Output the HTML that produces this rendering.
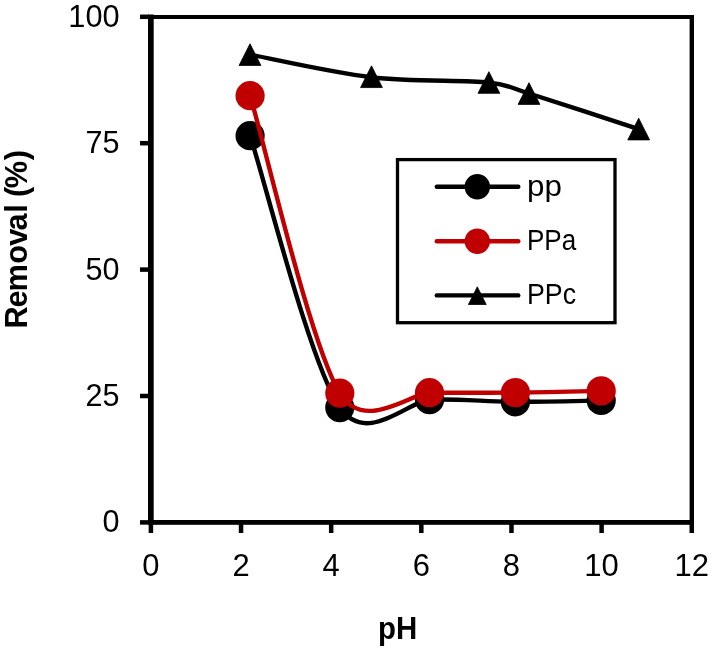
<!DOCTYPE html>
<html lang="en"><head><meta charset="utf-8"><title>Removal vs pH</title>
<style>html,body{margin:0;padding:0;background:#fff;}body{width:711px;height:649px;overflow:hidden;}svg{display:block;}text{font-family:"Liberation Sans",sans-serif;fill:#000;}</style></head><body>
<svg width="711" height="649" viewBox="0 0 711 649" style="will-change:transform">
<rect width="711" height="649" fill="#fff"/>
<g fill="#000">
<rect x="150" y="15" width="544" height="4"/>
<rect x="689.6" y="15" width="4.4" height="509"/>
<rect x="148" y="14.5" width="5.7" height="510.3"/>
<rect x="148" y="520" width="546" height="4.8"/>
<rect x="140" y="520.15" width="9" height="4.5"/>
<rect x="140" y="393.75" width="9" height="4.5"/>
<rect x="140" y="267.35" width="9" height="4.5"/>
<rect x="140" y="140.95" width="9" height="4.5"/>
<rect x="140" y="14.55" width="9" height="4.5"/>
<rect x="148.65" y="522" width="4.5" height="11"/>
<rect x="238.79" y="522" width="4.5" height="11"/>
<rect x="328.93" y="522" width="4.5" height="11"/>
<rect x="419.08" y="522" width="4.5" height="11"/>
<rect x="509.22" y="522" width="4.5" height="11"/>
<rect x="599.36" y="522" width="4.5" height="11"/>
<rect x="689.50" y="522" width="4.5" height="11"/>
</g>
<g font-size="30.6" text-anchor="end">
<text x="119.60" y="532.30" textLength="17.00" lengthAdjust="spacingAndGlyphs">0</text>
<text x="119.60" y="405.90" textLength="34.00" lengthAdjust="spacingAndGlyphs">25</text>
<text x="119.60" y="279.50" textLength="34.00" lengthAdjust="spacingAndGlyphs">50</text>
<text x="119.60" y="153.10" textLength="34.00" lengthAdjust="spacingAndGlyphs">75</text>
<text x="119.60" y="26.70" textLength="51.30" lengthAdjust="spacingAndGlyphs">100</text>
</g>
<g font-size="30.6" text-anchor="middle">
<text x="150.90" y="575.70" textLength="17.20" lengthAdjust="spacingAndGlyphs">0</text>
<text x="241.04" y="575.70" textLength="17.20" lengthAdjust="spacingAndGlyphs">2</text>
<text x="331.18" y="575.70" textLength="17.20" lengthAdjust="spacingAndGlyphs">4</text>
<text x="421.33" y="575.70" textLength="17.20" lengthAdjust="spacingAndGlyphs">6</text>
<text x="511.47" y="575.70" textLength="17.20" lengthAdjust="spacingAndGlyphs">8</text>
<text x="601.61" y="575.70" textLength="34.50" lengthAdjust="spacingAndGlyphs">10</text>
<text x="691.75" y="575.70" textLength="34.50" lengthAdjust="spacingAndGlyphs">12</text>
</g>
<text x="397.60" y="638.80" font-size="30.8" font-weight="bold" text-anchor="middle" textLength="39.20" lengthAdjust="spacingAndGlyphs">pH</text>
<text transform="translate(27.40,324.80) rotate(-90)" font-size="30.8" font-weight="bold" x="-3.80 17.25 33.35 60.95 79.00 94.25 112.15 120.71 127.80 136.60 164.60">Removal (%)</text>
<g fill="none" stroke-width="4.4" stroke-linecap="round" stroke-linejoin="round">
<path d="M250.00,54.60 C270.25,58.37 331.68,72.53 371.50,77.20 C411.32,81.87 462.65,79.88 488.90,82.60 C509.57,84.74 509.16,87.33 529.00,93.50 C553.97,101.27 620.42,123.25 638.70,129.20" stroke="#000"/>
</g>
<polygon points="250.00,43.73 260.92,65.45 239.08,65.45" fill="#000" stroke="#000" stroke-width="0.8" stroke-linejoin="round"/>
<polygon points="371.50,65.83 382.42,87.55 360.58,87.55" fill="#000" stroke="#000" stroke-width="0.8" stroke-linejoin="round"/>
<polygon points="488.90,71.63 499.82,93.35 477.98,93.35" fill="#000" stroke="#000" stroke-width="0.8" stroke-linejoin="round"/>
<polygon points="529.00,82.68 539.92,104.40 518.08,104.40" fill="#000" stroke="#000" stroke-width="0.8" stroke-linejoin="round"/>
<polygon points="638.70,118.18 649.62,139.90 627.78,139.90" fill="#000" stroke="#000" stroke-width="0.8" stroke-linejoin="round"/>
<path d="M250.10,135.70 C265.05,181.02 309.90,363.60 339.80,407.60 C366.37,446.70 409.68,400.35 429.50,399.70 C458.77,398.73 486.78,401.67 515.40,401.80 C544.02,401.93 586.90,400.72 601.20,400.50" fill="none" stroke="#000" stroke-width="4.4" stroke-linecap="round"/>
<circle cx="250.10" cy="135.70" r="14.6" fill="#000"/>
<circle cx="339.80" cy="407.60" r="14.6" fill="#000"/>
<circle cx="429.50" cy="399.70" r="14.6" fill="#000"/>
<circle cx="515.40" cy="401.80" r="14.6" fill="#000"/>
<circle cx="601.20" cy="400.50" r="14.6" fill="#000"/>
<path d="M250.10,95.70 C265.05,145.27 309.90,343.60 339.80,393.10 C364.15,433.41 411.34,392.75 429.50,392.70 C458.77,392.62 486.78,392.90 515.40,392.60 C544.02,392.30 586.90,391.18 601.20,390.90" fill="none" stroke="#C00000" stroke-width="4.4" stroke-linecap="round"/>
<circle cx="250.10" cy="95.70" r="14.6" fill="#C00000"/>
<circle cx="339.80" cy="393.10" r="14.6" fill="#C00000"/>
<circle cx="429.50" cy="392.70" r="14.6" fill="#C00000"/>
<circle cx="515.40" cy="392.60" r="14.6" fill="#C00000"/>
<circle cx="601.20" cy="390.90" r="14.6" fill="#C00000"/>
<rect x="397.5" y="159.6" width="217.5" height="163.1" fill="#fff" stroke="#000" stroke-width="3.3"/>
<line x1="436.8" y1="186.80" x2="518.3" y2="186.80" stroke="#000" stroke-width="4.4" stroke-linecap="round"/>
<line x1="436.8" y1="241.30" x2="518.3" y2="241.30" stroke="#C00000" stroke-width="4.4" stroke-linecap="round"/>
<line x1="436.8" y1="295.40" x2="518.3" y2="295.40" stroke="#000" stroke-width="4.4" stroke-linecap="round"/>
<circle cx="477.3" cy="186.80" r="12.7" fill="#000"/>
<circle cx="477.3" cy="241.30" r="12.7" fill="#C00000"/>
<polygon points="477.30,286.78 486.22,304.50 468.38,304.50" fill="#000" stroke="#000" stroke-width="0.8" stroke-linejoin="round"/>
<g font-size="29.4">
<text x="527.00" y="195.60" font-size="29.4" textLength="34.90" lengthAdjust="spacingAndGlyphs">pp</text>
<text x="527.00" y="250.40" textLength="49.20" lengthAdjust="spacingAndGlyphs">PPa</text>
<text x="527.00" y="304.20" textLength="49.00" lengthAdjust="spacingAndGlyphs">PPc</text>
</g>
</svg></body></html>
